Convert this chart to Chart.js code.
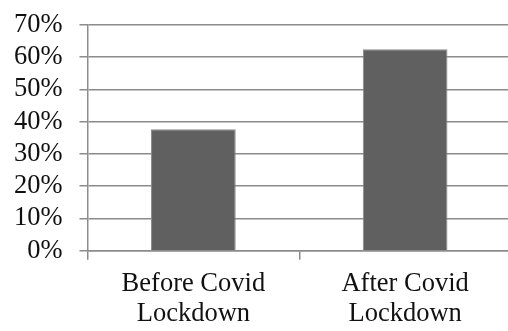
<!DOCTYPE html>
<html>
<head>
<meta charset="utf-8">
<script src="https://cdn.jsdelivr.net/npm/chart.js@4/dist/chart.umd.min.js"></script>
<style>
  html, body { margin: 0; padding: 0; background: #fff; overflow: hidden; }
  #wrap { width: 511px; height: 331px; position: relative; }
</style>
</head>
<body>
<div id="wrap"><canvas id="c"></canvas></div>
<script>
const categories = [["Before Covid", "Lockdown"], ["After Covid", "Lockdown"]];
const values = [37.6, 62.4];
const yTicks = [0, 10, 20, 30, 40, 50, 60, 70];

const gridColor = '#8c8c8c';
const font = { family: '"Liberation Serif", "Times New Roman", serif', size: 26.5, lineHeight: 1.14 };

new Chart(document.getElementById('c'), {
  type: 'bar',
  data: {
    labels: categories,
    datasets: [{
      data: values,
      backgroundColor: '#606060',
      borderColor: '#8a8a8a',
      borderWidth: 1,
      barPercentage: 0.4,
      categoryPercentage: 1.0
    }]
  },
  options: {
    responsive: true,
    maintainAspectRatio: false,
    animation: false,
    devicePixelRatio: 1,
    layout: { padding: { left: 12, top: 0, right: 0, bottom: 0 } },
    plugins: { legend: { display: false }, tooltip: { enabled: false } },
    scales: {
      x: {
        offset: true,
        afterFit: (s) => { s.height = 80.3; },
        grid: { display: true, drawOnChartArea: false, drawTicks: true, tickLength: 9, color: gridColor, lineWidth: 1.5, offset: true },
        border: { display: true, color: gridColor, width: 1.5 },
        ticks: { color: '#111', font: font, padding: 9.3, maxRotation: 0, autoSkip: false }
      },
      y: {
        min: 0,
        max: 70,
        afterFit: (s) => { s.width = 75.5; s.paddingTop = 24.7; s.paddingBottom = 0; },
        afterBuildTicks: (axis) => { axis.ticks = yTicks.map(v => ({ value: v })); },
        grid: { display: true, drawOnChartArea: true, drawTicks: true, tickLength: 8, color: gridColor, lineWidth: 1.5 },
        border: { display: true, color: gridColor, width: 1.5 },
        ticks: { color: '#111', font: font, padding: 17, autoSkip: false, callback: (v) => v + '%' }
      }
    }
  }
});
</script>
</body>
</html>
